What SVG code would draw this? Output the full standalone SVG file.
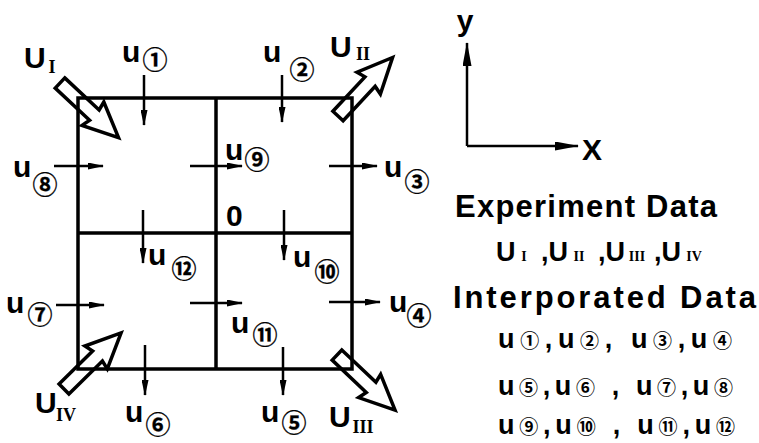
<svg xmlns="http://www.w3.org/2000/svg" width="759" height="443" viewBox="0 0 759 443">
<style>
.ln{stroke:#000;stroke-width:3.5;fill:none}
.ar{stroke:#000;stroke-width:2.5;fill:none;marker-end:url(#ah)}
.ax{stroke:#000;stroke-width:2.5;fill:none;marker-end:url(#axh)}
.big{stroke:#000;stroke-width:3.5;fill:none;stroke-linejoin:miter}
.u{font-family:"Liberation Sans",Arial,sans-serif;font-weight:bold;font-size:30px;fill:#000}
.cn{font-family:"Noto Sans CJK JP","DejaVu Sans",sans-serif;font-weight:bold;font-size:25px;fill:#000;stroke:#000;stroke-width:0.3;text-anchor:middle}
.rn{font-family:"Liberation Serif","Times New Roman",serif;font-weight:bold;font-size:18px;fill:#000;text-anchor:middle}
.t{font-family:"Liberation Sans",Arial,sans-serif;font-weight:bold;font-size:31px;fill:#000}
.lu{font-family:"Liberation Sans",Arial,sans-serif;font-weight:bold;font-size:27px;fill:#000}
.lc{font-family:"Noto Sans CJK JP","DejaVu Sans",sans-serif;font-weight:bold;font-size:19px}
.lr{font-family:"Liberation Serif","Times New Roman",serif;font-weight:bold;font-size:14px;fill:#000;text-anchor:middle}
</style>
<defs>
<marker id="ah" viewBox="0 0 16 7" refX="15" refY="3.5" markerWidth="16" markerHeight="7" orient="auto" markerUnits="userSpaceOnUse"><path d="M0,0 L16,3.5 L0,7 z" fill="#000"/></marker>
<marker id="axh" viewBox="0 0 24 9" refX="23" refY="4.5" markerWidth="24" markerHeight="9" orient="auto" markerUnits="userSpaceOnUse"><path d="M0,0 L24,4.5 L0,9 z" fill="#000"/></marker>
<path id="fat" d="M0,-7 H47 L45,-16 L80,0 L45,16 L47,7 H0 Z"/>
</defs>
<rect width="759" height="443" fill="#fff"/>

<g id="grid">
<rect class="ln" x="78" y="98" width="274" height="271"/>
<line class="ln" x1="216" y1="98" x2="216" y2="369"/>
<line class="ln" x1="78" y1="233" x2="352" y2="233"/>
</g>

<g id="connectors">
<path class="ar" d="M144,75 V125"/>
<path class="ar" d="M282,75 V122"/>
<path class="ar" d="M54,166 H103"/>
<path class="ar" d="M190,166 H242"/>
<path class="ar" d="M329,166 H377"/>
<path class="ar" d="M143,210 V263"/>
<path class="ar" d="M284,210 V260"/>
<path class="ar" d="M56,305 H104"/>
<path class="ar" d="M190,303 H242"/>
<path class="ar" d="M329,302 H380"/>
<path class="ar" d="M145,345 V395"/>
<path class="ar" d="M283,347 V395"/>
</g>

<g id="U1">
<use href="#fat" class="big" transform="translate(60,83) rotate(43)"/>
<text class="u" x="24" y="68">U</text><text class="rn" x="52" y="73">I</text>
</g>
<g id="U2">
<use href="#fat" class="big" transform="translate(338,116) rotate(-47)"/>
<text class="u" x="330" y="57">U</text><text class="rn" x="363" y="60">II</text>
</g>
<g id="U3">
<use href="#fat" class="big" transform="translate(337,355) rotate(43.5)"/>
<text class="u" x="329" y="427">U</text><text class="rn" x="363" y="433">III</text>
</g>
<g id="U4">
<use href="#fat" class="big" transform="translate(64,389) rotate(-44.5)"/>
<text class="u" x="35" y="413">U</text><text class="rn" x="66" y="421">IV</text>
</g>

<g id="n1"><text class="u" x="122" y="62">u</text><text class="cn" x="155" y="69">①</text></g>
<g id="n2"><text class="u" x="263" y="62">u</text><text class="cn" x="302" y="79">②</text></g>
<g id="n3"><text class="u" x="384" y="177">u</text><text class="cn" x="417" y="191">③</text></g>
<g id="n4"><text class="u" x="389" y="312">u</text><text class="cn" x="419" y="325">④</text></g>
<g id="n5"><text class="u" x="261" y="422">u</text><text class="cn" x="294" y="432">⑤</text></g>
<g id="n6"><text class="u" x="125" y="422">u</text><text class="cn" x="158" y="434">⑥</text></g>
<g id="n7"><text class="u" x="6" y="313">u</text><text class="cn" x="40" y="324">⑦</text></g>
<g id="n8"><text class="u" x="13" y="177">u</text><text class="cn" x="45" y="194">⑧</text></g>
<g id="n9"><text class="u" x="225" y="160">u</text><text class="cn" x="257" y="169">⑨</text></g>
<g id="n10"><text class="u" x="293" y="267">u</text><text class="cn" x="327" y="281">⑩</text></g>
<g id="n11"><text class="u" x="231" y="333">u</text><text class="cn" x="265" y="344">⑪</text></g>
<g id="n12"><text class="u" x="148" y="265">u</text><text class="cn" x="184" y="278">⑫</text></g>
<g id="origin"><text class="u" x="226" y="226">0</text></g>

<g id="axes">
<path class="ax" d="M467,146 V43"/>
<path class="ax" d="M467,146 H578"/>
<text class="u" x="465" y="31" text-anchor="middle">y</text>
<text class="u" x="582" y="160">X</text>
</g>

<g id="legend">
<text class="t" x="455" y="217" textLength="262" lengthAdjust="spacing">Experiment Data</text>
<text class="lu" y="261"><tspan x="496">U</tspan><tspan x="541">,U</tspan><tspan x="598">,U</tspan><tspan x="654">,U</tspan></text>
<text class="lr" x="524" y="261">I</text>
<text class="lr" x="579" y="261">II</text>
<text class="lr" x="637" y="261">III</text>
<text class="lr" x="694" y="261">IV</text>
<text class="t" x="453" y="308" font-size="32" textLength="303" lengthAdjust="spacing">Interporated Data</text>
<text class="lu" x="498" y="348" textLength="234" lengthAdjust="spacing">u<tspan class="lc">①</tspan>,u<tspan class="lc">②</tspan>, u<tspan class="lc">③</tspan>,u<tspan class="lc">④</tspan></text>
<text class="lu" x="498" y="395" textLength="235" lengthAdjust="spacing">u<tspan class="lc">⑤</tspan>,u<tspan class="lc">⑥</tspan> , u<tspan class="lc">⑦</tspan>,u<tspan class="lc">⑧</tspan></text>
<text class="lu" x="498" y="434" textLength="237" lengthAdjust="spacing">u<tspan class="lc">⑨</tspan>,u<tspan class="lc">⑩</tspan> , u<tspan class="lc">⑪</tspan>,u<tspan class="lc">⑫</tspan></text>
</g>
</svg>
